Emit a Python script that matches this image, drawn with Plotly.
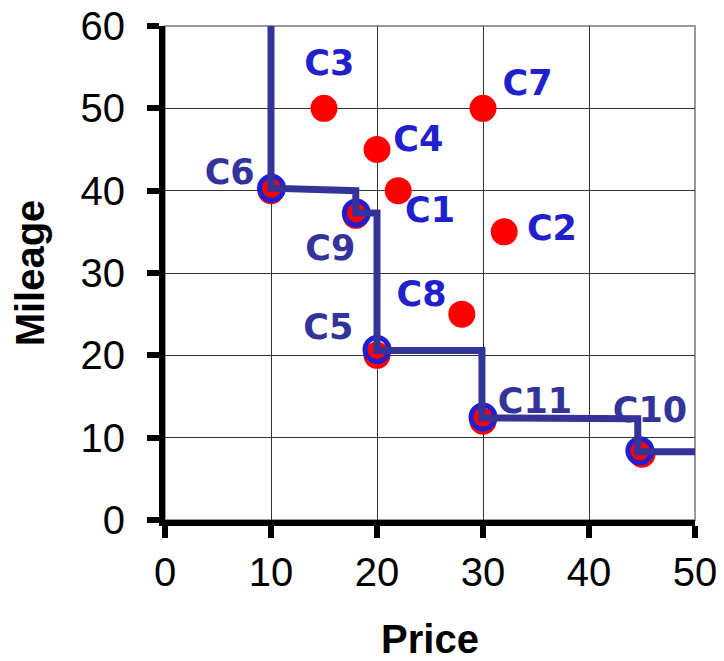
import plotly.graph_objects as go

# Car data: Price vs Mileage
names = ["C1", "C2", "C3", "C4", "C5", "C6", "C7", "C8", "C9", "C10", "C11"]
price = [22, 32, 15, 20, 20, 10, 30, 28, 18, 45, 30]
mileage = [40, 35, 50, 45, 20, 40, 50, 25, 37, 8, 12]

# Skyline (Pareto-optimal) points, drawn as blue rings
sky_names = ["C6", "C9", "C5", "C11", "C10"]
sky_price = [10.05, 18.05, 20.0, 30.0, 44.8]
sky_mileage = [40.3, 37.3, 20.7, 12.5, 8.4]

# Skyline step line vertices
step_x = [10, 10, 18, 18, 20, 20, 29.9, 29.9, 44.6, 44.6, 50]
step_y = [60, 40.3, 40.0, 37.3, 37.3, 20.6, 20.6, 12.4, 12.3, 8.3, 8.3]

# Label positions
label_x = [25.0, 36.5, 15.5, 23.9, 15.4, 6.1, 34.2, 24.2, 15.6, 45.75, 34.9]
label_y = [37.3, 35.1, 55.1, 45.9, 23.0, 41.9, 52.7, 27.1, 32.7, 13.0, 14.0]
label_color = ["#2020CC", "#2020CC", "#2020CC", "#2020CC", "#333399", "#333399",
               "#2020CC", "#2020CC", "#333399", "#333399", "#333399"]

fig = go.Figure()

fig.add_trace(go.Scatter(
    x=price, y=mileage, mode="markers",
    marker=dict(color="#FF0000", size=27, line=dict(width=0)),
    showlegend=False, hoverinfo="skip"))

fig.add_trace(go.Scatter(
    x=sky_price, y=sky_mileage, mode="markers",
    marker=dict(symbol="circle-open", color="#1F1FD0", size=24, line=dict(width=5, color="#1F1FD0")),
    showlegend=False, hoverinfo="skip"))

fig.add_trace(go.Scatter(
    x=step_x, y=step_y, mode="lines",
    line=dict(color="#333399", width=7),
    showlegend=False, hoverinfo="skip"))

fig.add_trace(go.Scatter(
    x=label_x, y=label_y, mode="text", text=names,
    textposition="middle center",
    textfont=dict(family="DejaVu Sans", size=35, color=label_color, weight="bold"),
    showlegend=False, hoverinfo="skip", cliponaxis=False))

axis_common = dict(
    showgrid=True, gridcolor="#333333", gridwidth=1,
    showline=True, linecolor="black", linewidth=6,
    ticks="outside", ticklen=12, tickwidth=6, tickcolor="black",
    zeroline=False, dtick=10, automargin=False, ticklabeloverflow="allow",
    tickfont=dict(family="Liberation Sans, Arial", size=40, color="black"),
)

fig.update_xaxes(range=[0, 50], **axis_common,
                 title=dict(text="Price", font=dict(family="Liberation Sans, Arial", size=40, color="black", weight="bold"), standoff=34),
                 ticklabelstandoff=0)
fig.update_yaxes(range=[0, 60], **axis_common,
                 title=dict(text="Mileage", font=dict(family="Liberation Sans, Arial", size=40, color="black", weight="bold"), standoff=28),
                 ticklabelstandoff=14)

fig.add_shape(type="rect", xref="paper", yref="paper", x0=0, y0=0, x1=1, y1=1,
              line=dict(color="#999999", width=2), layer="below")

# page body adds an 8px offset; margins compensate so the plot area sits at x 165-695, y 26-520
fig.update_layout(
    width=724, height=661,
    margin=dict(l=157, r=37, t=18, b=149, autoexpand=False),
    plot_bgcolor="white", paper_bgcolor="white",
)

fig.write_html("out.html")
